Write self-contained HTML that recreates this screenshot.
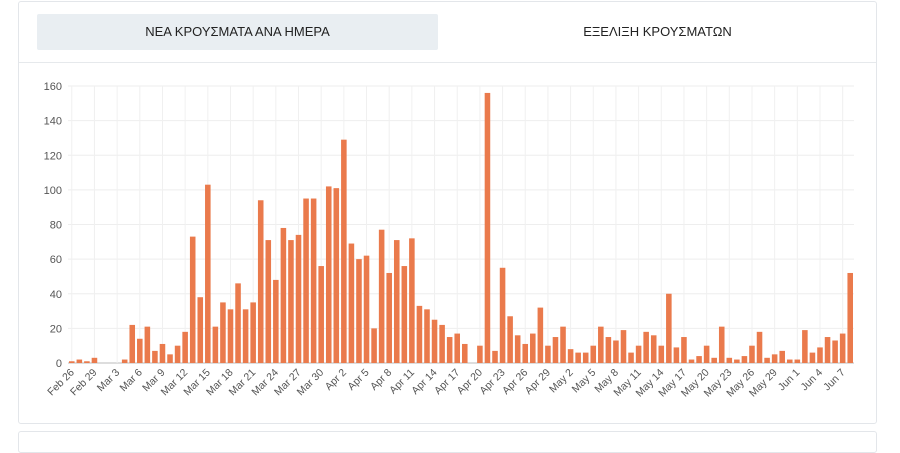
<!DOCTYPE html>
<html><head><meta charset="utf-8"><style>
body{margin:0;width:900px;height:439px;background:#fff;font-family:"Liberation Sans",sans-serif;overflow:hidden;position:relative}
.card{position:absolute;left:18px;top:1px;width:857px;height:421px;border:1px solid #e3e6ea;border-radius:3px;background:#fff}
.card2{position:absolute;left:18px;top:431px;width:857px;height:20px;border:1px solid #e3e6ea;border-radius:3px}
.tab{position:absolute;top:12px;height:36px;line-height:36px;text-align:center;font-size:13px;color:#222}
.divider{position:absolute;left:0;right:0;top:60px;border-top:1px solid #e6e9ec}
</style></head><body>
<div class="card">
<div class="tab" style="left:18px;width:401px;background:#e9eef2;border-radius:2px">ΝΕΑ ΚΡΟΥΣΜΑΤΑ ΑΝΑ ΗΜΕΡΑ</div>
<div class="tab" style="left:438px;width:401px">ΕΞΕΛΙΞΗ ΚΡΟΥΣΜΑΤΩΝ</div>
<div class="divider"></div>
</div>
<div class="card2"></div>
<svg id="chart" width="900" height="439" style="position:absolute;left:0;top:0"></svg>
<script>
const values=[1,2,1,3,
0,0,0,2,22,14,21,7,11,5,10,18,73,38,103,21,35,31,46,31,35,94,71,48,78,71,74,95,95,56,102,
101,129,69,60,62,20,77,52,71,56,72,33,31,25,22,15,17,11,0,10,156,7,55,27,16,11,17,32,10,15,
21,8,6,6,10,21,15,13,19,6,10,18,16,10,40,9,15,2,4,10,3,21,3,2,4,10,18,3,5,7,2,
2,19,6,9,15,13,17,52];
const yTicks=[0,20,40,60,80,100,120,140,160];
const months=["Feb","Mar","Apr","May","Jun"];
const monthDays=[29,31,30,31,30];
const startMonth=0, startDay=26;
const categories=[];
(function(){let m=startMonth,d=startDay;for(let i=0;i<values.length;i++){categories.push(months[m]+" "+d);d++;if(d>monthDays[m]){d=1;m++;}}})();
const NS="http://www.w3.org/2000/svg";
const svg=document.getElementById('chart');
const L=68,R=854,T=86,B=363,ymax=160;
const step=(R-L)/values.length;
const x=i=>L+step*i;
const y=v=>B-(B-T)*v/ymax;
function mk(t,a){const e=document.createElementNS(NS,t);for(const k in a)e.setAttribute(k,a[k]);svg.appendChild(e);return e;}
yTicks.forEach(v=>{
 const g=mk('line',{x1:L,x2:R,y1:y(v),y2:y(v),stroke:v===0?'#bbb':'#eeeeee','stroke-width':1});
 
 
 const t=mk('text',{x:L-6,y:y(v)+4,'text-anchor':'end','font-size':11,fill:'#555','font-family':'Liberation Sans, sans-serif'});
 t.textContent=v;
 
 
});
categories.forEach((c,i)=>{
 if(i%3!==0)return;
 const cx=x(i)+step/2;
 const gl=mk('line',{x1:cx,x2:cx,y1:T,y2:B,stroke:'#f0f0f0','stroke-width':1});
 
 
 const t=mk('text',{x:cx+3,y:B+10,'text-anchor':'end','font-size':10.5,fill:'#555','font-family':'Liberation Sans, sans-serif',transform:`rotate(-45 ${cx+3} ${B+10})`});
 t.textContent=c;
 
 
});
values.forEach((v,i)=>{
 const r=mk('rect',{x:x(i)+1,y:y(v),width:step-2,height:B-y(v),fill:'#ea7a4c'});
 
 
});
</script>
</body></html>
